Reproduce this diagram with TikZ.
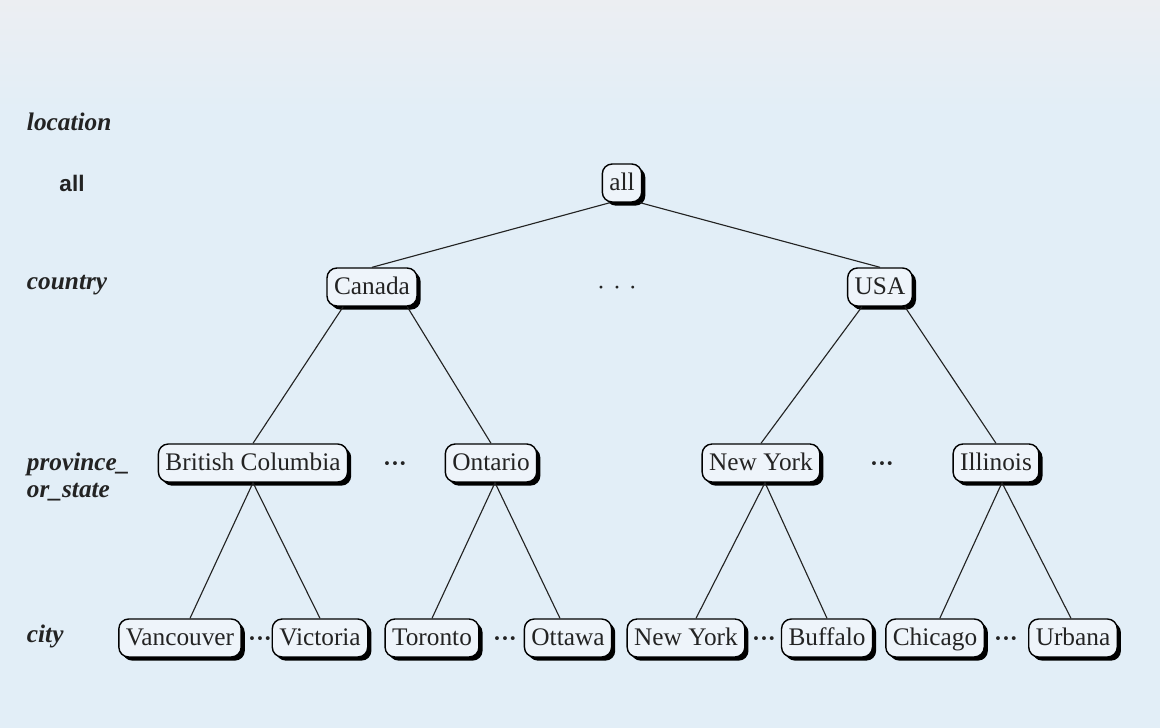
\documentclass[tikz,border=0pt]{standalone}
\usepackage{fontspec}
\setmainfont{Liberation Serif}
\newfontfamily\lblsans{Liberation Sans}
\usetikzlibrary{shadows}
\definecolor{slidebg}{RGB}{226,238,247}
\definecolor{slidetop}{RGB}{236,238,242}
\definecolor{boxfill}{RGB}{238,244,250}
\definecolor{inkgray}{RGB}{35,35,35}
\begin{document}
\begin{tikzpicture}[x=0.025cm, y=-0.025cm,
  val/.style={draw, line width=1pt, rounded corners=7pt, fill=boxfill, inner xsep=5pt, inner ysep=0pt,
    text height=12.5pt, text depth=2.5pt, minimum height=27pt, text=inkgray, font=\fontsize{18}{20}\selectfont,
    drop shadow={shadow xshift=2.6pt, shadow yshift=-2.6pt, fill=black, opacity=1}},
  lvl/.style={anchor=west, text=inkgray, align=left, font=\fontsize{18}{19}\selectfont\bfseries\itshape},
  gap/.style={text=inkgray, font=\fontsize{17}{20}\selectfont\bfseries},
  edge/.style={line width=0.8pt, draw=inkgray}]

% slide background
\fill[slidebg] (0,0) rectangle (1160,728);
\shade[top color=slidetop, bottom color=slidebg] (0,0) rectangle (1160,115);
\useasboundingbox (0,0) rectangle (1160,728);

% level names
\node[lvl] (lloc) at (22,122) {location};
\node[text=inkgray, font=\fontsize{16}{19}\selectfont\lblsans\bfseries] (lall) at (72,183) {all};
\node[lvl] (lcty) at (22,285) {country};
\node[lvl] (lprv) at (22,477) {province\_\\or\_state};
\node[lvl] (lcit) at (22,636) {city};

% top
\node[val] (all) at (622,183) {all};

\node[val] (can) at (372,287) {Canada};
\node[gap, font=\fontsize{17}{20}\selectfont] (dc) at (617,291) {·\,\,·\,\,·};
\node[val] (usa) at (880,287) {USA};

\draw[edge] ([xshift=-0.3cm]all.south) -- (can.north);
\draw[edge] ([xshift=0.45cm]all.south) -- (usa.north);

% provinces / states
\node[val] (bc) at (253,463) {British Columbia};
\node[gap] (dp1) at (395,467) {···};
\node[val] (ont) at (491,463) {Ontario};
\node[val] (ny) at (761,463) {New York};
\node[gap] (dp2) at (882,467) {···};
\node[val] (ill) at (996,463) {Illinois};

\draw[edge] ([xshift=-0.72cm]can.south) -- (bc.north);
\draw[edge] ([xshift=0.88cm]can.south) -- (ont.north);
\draw[edge] ([xshift=-0.45cm]usa.south) -- (ny.north);
\draw[edge] ([xshift=0.62cm]usa.south) -- (ill.north);

% cities
\node[val] (van) at (180,638) {Vancouver};
\node[gap] (d1) at (260,642) {···};
\node[val] (vic) at (320,638) {Victoria};
\node[val] (tor) at (432,638) {Toronto};
\node[gap] (d2) at (505,642) {···};
\node[val] (ott) at (568,638) {Ottawa};
\node[val] (nyc) at (686,638) {New York};
\node[gap] (d3) at (764,642) {···};
\node[val] (buf) at (827,638) {Buffalo};
\node[val] (chi) at (935,638) {Chicago};
\node[gap] (d4) at (1006,642) {···};
\node[val] (urb) at (1073,638) {Urbana};

\draw[edge] (bc.south) -- ([xshift=0.25cm]van.north);
\draw[edge] (bc.south) -- (vic.north);
\draw[edge] ([xshift=0.1cm]ont.south) -- (tor.north);
\draw[edge] ([xshift=0.1cm]ont.south) -- ([xshift=-0.2cm]ott.north);
\draw[edge] ([xshift=0.1cm]ny.south) -- ([xshift=0.25cm]nyc.north);
\draw[edge] ([xshift=0.1cm]ny.south) -- (buf.north);
\draw[edge] ([xshift=0.15cm]ill.south) -- ([xshift=0.12cm]chi.north);
\draw[edge] ([xshift=0.15cm]ill.south) -- ([xshift=-0.05cm]urb.north);

\end{tikzpicture}
\end{document}
